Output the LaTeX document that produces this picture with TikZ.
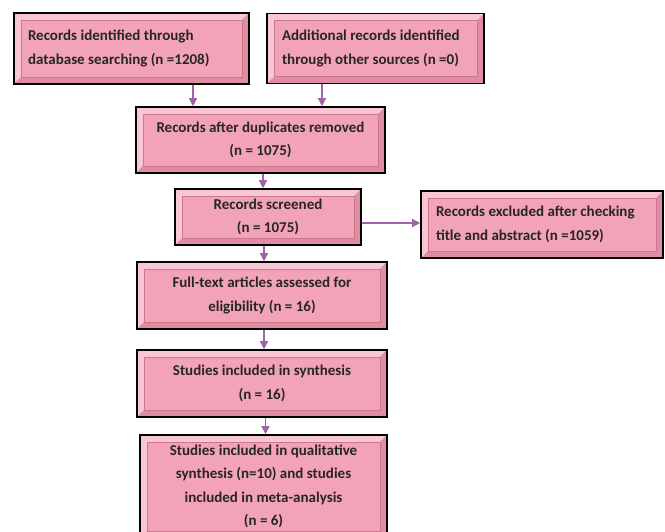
\documentclass[tikz,border=0pt]{standalone}
\usepackage{fontspec}
\setmainfont{Carlito}
\usetikzlibrary{arrows.meta}
\definecolor{pkLight}{HTML}{F9C6D3}
\definecolor{pkMid}{HTML}{F3A3B8}
\definecolor{pkDark}{HTML}{E08DA3}
\definecolor{pkLine}{HTML}{C9788E}
\definecolor{arrcol}{HTML}{9E62A8}
\newcommand\tightsp{\spaceskip=0pt\xspaceskip=0pt\relax}
\tikzset{
  bevelbox/.style={draw=black, line width=1.6pt, fill=pkLight, inner sep=0pt,
    font=\fontsize{15}{23.5}\selectfont\bfseries, text=black!85,
    path picture={
      \fill[pkDark] (path picture bounding box.south east) -- (path picture bounding box.north east)
        -- ([shift={(-7pt,-7pt)}]path picture bounding box.north east)
        -- ([shift={(-7pt,7pt)}]path picture bounding box.south east) -- cycle;
      \fill[pkDark] (path picture bounding box.south east) -- (path picture bounding box.south west)
        -- ([shift={(7pt,7pt)}]path picture bounding box.south west)
        -- ([shift={(-7pt,7pt)}]path picture bounding box.south east) -- cycle;
      \fill[pkMid, draw=pkLine, line width=0.4pt] ([shift={(7pt,-7pt)}]path picture bounding box.north west)
        rectangle ([shift={(-7pt,7pt)}]path picture bounding box.south east);
    }},
  centerbox/.style={bevelbox, align=center},
  leftbox/.style={bevelbox, align=left, text width=#1},
  arr/.style={draw=arrcol, line width=1.3pt, -{Triangle[length=8pt,width=8pt]}}
}
\begin{document}
\begin{tikzpicture}[x=1pt,y=-1pt]
\useasboundingbox (0,0) rectangle (665,532);
\node[leftbox=207pt, minimum width=235pt, minimum height=71pt] (b1) at (131.5,48.5)
  {\tightsp Records identified through\\\tightsp database searching (n =1208)};
\node[leftbox=187pt, minimum width=217pt, minimum height=70pt] (b2) at (375.5,48.5)
  {\tightsp Additional records identified\\\tightsp through other sources (n =0)};
\node[centerbox, minimum width=249pt, minimum height=66pt] (b3) at (260.5,140)
  {Records after duplicates removed\\(n = 1075)};
\node[centerbox, minimum width=186pt, minimum height=56pt] (b4) at (268,217)
  {Records screened\\(n = 1075)};
\node[leftbox=212pt, minimum width=242pt, minimum height=67pt] (b5) at (542,224.5)
  {\tightsp Records excluded after checking\\\tightsp title and abstract (n =1059)};
\node[centerbox, minimum width=250pt, minimum height=67pt] (b6) at (262,295.5)
  {Full-text articles assessed for\\eligibility (n = 16)};
\node[centerbox, minimum width=250pt, minimum height=67pt] (b7) at (262,383.5)
  {Studies included in synthesis\\(n = 16)};
\node[centerbox, minimum width=247pt, minimum height=103pt] (b8) at (263.5,486.5)
  {Studies included in qualitative\\synthesis (n=10) and studies\\included in meta-analysis\\(n = 6)};
\coordinate (a1) at ([xshift=61.5pt]b1.south);
\coordinate (a2) at ([xshift=-53.5pt]b2.south);
\coordinate (a3) at ([xshift=2.5pt]b3.south);
\coordinate (a4) at ([yshift=-6pt]b4.east);
\coordinate (a5) at ([xshift=-4pt]b4.south);
\coordinate (a6) at ([xshift=2pt]b6.south);
\coordinate (a7) at ([xshift=3.5pt]b7.south);
\draw[arr] (a1) -- (a1 |- b3.north);
\draw[arr] (a2) -- (a2 |- b3.north);
\draw[arr] (a3) -- (a3 |- b4.north);
\draw[arr] (a4) -- (a4 -| b5.west);
\draw[arr] (a5) -- (a5 |- b6.north);
\draw[arr] (a6) -- (a6 |- b7.north);
\draw[arr] (a7) -- (a7 |- b8.north);
\end{tikzpicture}
\end{document}
